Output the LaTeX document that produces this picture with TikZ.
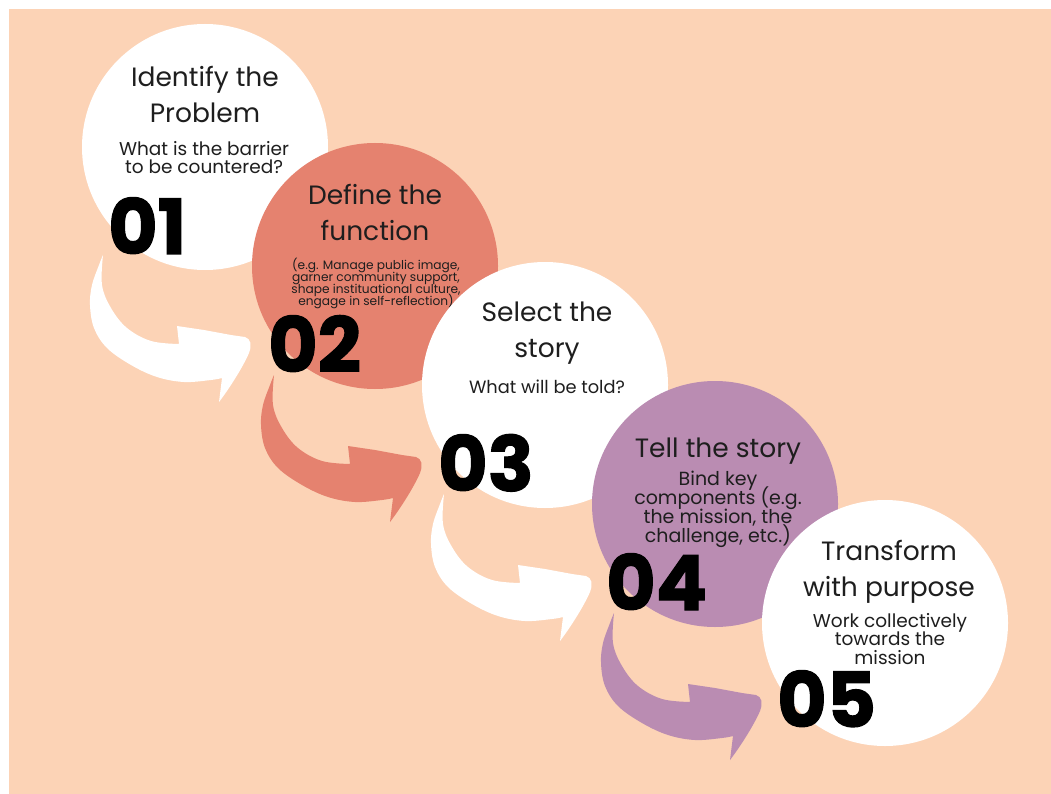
\documentclass[tikz,border=0pt]{standalone}
\usepackage{fontspec}
\setmainfont{Poppins}
\newfontfamily\numfont{Poppins}[UprightFont={* Bold}, UprightFeatures={FakeBold=1.6}]
\definecolor{peach}{HTML}{FCD3B6}
\definecolor{salmon}{HTML}{E5826F}
\definecolor{mauve}{HTML}{BA8CB2}
\definecolor{ink}{HTML}{1E1E1E}
\tikzset{
  pics/swoosh/.style={code={
    \fill[#1] (0,0) -- plot[smooth,tension=0.6] coordinates {(0,0) (-4,10) (-11,30) (-13,50) (-9,73) (4,93) (28,110) (54,122) (81,127) (108,125) (119,123)}
      -- (116,147) .. controls (126,134) and (140,112) .. (146,98)
      .. controls (149,90) and (148,84) .. (142,82) -- (128,80) -- (101,75) -- (74,71) -- (76,89)
      -- plot[smooth,tension=0.6] coordinates {(76,89) (48,86) (24,73) (8,53) (-1,30) (0,0)} -- cycle;
  }},
  ttl/.style={font=\fontsize{26.5}{36}\selectfont, text=ink, align=center, inner sep=0, anchor=north},
  sub/.style={font=\fontsize{18.5}{18.5}\selectfont, text=ink, align=center, inner sep=0, anchor=north},
  tiny/.style={font=\fontsize{12.2}{12.1}\selectfont, text=ink, align=center, inner sep=0, anchor=north},
  num/.style={font=\fontsize{76}{76}\selectfont\numfont, text=black, inner sep=0, anchor=base west},
  disc/.style={circle, inner sep=0, minimum size=246pt},
}
\begin{document}
\lineskiplimit=-100pt
\lineskip=0pt
\begin{tikzpicture}[x=1pt,y=-1pt]
\useasboundingbox (0,0) rectangle (1051,794);
\fill[white] (0,0) rectangle (1051,794);
\fill[peach] (9,9) rectangle (1051,794);

% circle centres
\coordinate (p1) at (205,147);
\coordinate (p2) at (375,266);
\coordinate (p3) at (545,385);
\coordinate (p4) at (715,504);
\coordinate (p5) at (885,623);

% swoosh arrows
\pic at ([shift={(-102,108)}]p1) {swoosh=white};
\pic at ([shift={(-101,109)}]p2) {swoosh=salmon};
\pic at ([shift={(-101,109)}]p3) {swoosh=white};
\pic at ([shift={(-101,109)}]p4) {swoosh=mauve};

% step 1
\node[disc, fill=white] (c1) at (p1) {};
\node[ttl] (t1) at (205,66) {Identify the\\Problem};
\node[sub] (s1) at (204,141) {What is the barrier\\to be countered?};
\node[num] (n1) at (108,254) {01};

% step 2
\node[disc, fill=salmon] (c2) at (p2) {};
\node[ttl] (t2) at (375,184) {Define the\\function};
\node[tiny] (s2) at (376,258) {(e.g. Manage public image,\\garner community support,\\shape instituational culture,\\engage in self-reflection)};
\node[num] (n2) at (268,372) {02};

% step 3
\node[disc, fill=white] (c3) at (p3) {};
\node[ttl] (t3) at (547,302) {Select the\\story};
\node[sub, font=\fontsize{17.8}{18.5}\selectfont] (s3) at (547,380) {What will be told?};
\node[num] (n3) at (438,491) {03};

% step 4
\node[disc, fill=mauve] (c4) at (p4) {};
\node[ttl] (t4) at (718,438) {Tell the story};
\node[sub, font=\fontsize{19}{19}\selectfont] (s4) at (718,471) {Bind key\\components (e.g.\\the mission, the\\challenge, etc.)};
\node[num] (n4) at (606,610) {04};

% step 5
\node[disc, fill=white] (c5) at (p5) {};
\node[ttl] (t5) at (889,540) {Transform\\with purpose};
\node[sub] (s5) at (890,613) {Work collectively\\towards the\\mission};
\node[num] (n5) at (777,727) {05};
\end{tikzpicture}
\end{document}
